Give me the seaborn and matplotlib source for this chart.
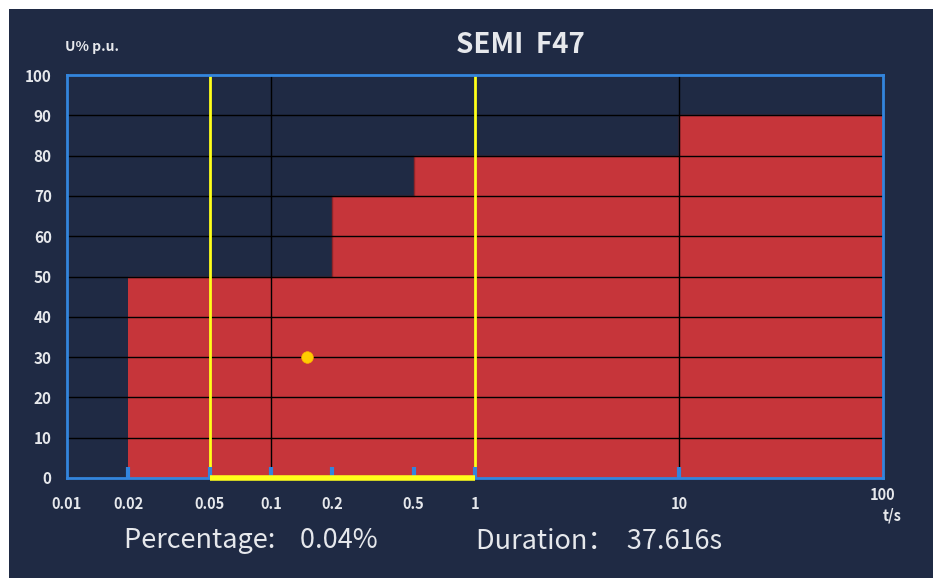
import numpy as np
import pandas as pd
import matplotlib
matplotlib.use("Agg")
import matplotlib.pyplot as plt
import seaborn as sns

# ---- data ----
curve_t = [0.02, 0.2, 0.5, 10, 100]       # s, step edges of SEMI F47 curve
curve_u = [50, 70, 80, 90, 90]            # U% p.u. (step 'post')
window_t = [0.05, 1]                      # yellow window
event_t = [0.15]
event_u = [30]
xticks = [0.01, 0.02, 0.05, 0.1, 0.2, 0.5, 1, 10]
xtick_labels = ["0.01", "0.02", "0.05", "0.1", "0.2", "0.5", "1", "10"]
inner_ticks = [0.02, 0.05, 0.1, 0.2, 0.5, 1, 10]
yticks = [0, 10, 20, 30, 40, 50, 60, 70, 80, 90, 100]
grid_x = [0.1, 1, 10]
percentage = "0.04%"
duration = "37.616s"

BG = "#1f2a44"
RED = "#c6353a"
BLUE = "#3385dd"
YEL = "#ffff1a"
TXT = "#e6e8ec"

sns.set_theme(style="dark")
plt.rcParams["font.family"] = ["Noto Sans CJK SC", "DejaVu Sans"]

W, H = 933, 578
fig = plt.figure(figsize=(W / 100, H / 100), dpi=100, facecolor=BG)
# white strips (top and left)
fig.patches.append(plt.Rectangle((0, 1 - 9 / H), 1, 9 / H, transform=fig.transFigure,
                                 facecolor="white", edgecolor="none", zorder=-10))
fig.patches.append(plt.Rectangle((0, 0), 9 / W, 1, transform=fig.transFigure,
                                 facecolor="white", edgecolor="none", zorder=-10))

L, R, T, B = 67, 883, 75, 478
ax = fig.add_axes([L / W, 1 - B / H, (R - L) / W, (B - T) / H])
ax.set_facecolor(BG)
ax.set_xscale("log")
ax.set_xlim(0.01, 100)
ax.set_ylim(0, 100)

# red tolerance area
ax.fill_between(curve_t, curve_u, 0, step="post", color=RED, linewidth=0, zorder=1)
df_curve = pd.DataFrame({"t": curve_t, "u": curve_u})
sns.lineplot(data=df_curve, x="t", y="u", drawstyle="steps-post", color="#8e2428",
             linewidth=1, ax=ax, zorder=1.5, legend=False)

# grid lines
for y in yticks[1:-1]:
    ax.axhline(y, color="black", linewidth=1, zorder=2)
for x in grid_x:
    ax.axvline(x, color="black", linewidth=1, zorder=2)

# yellow window
for x in window_t:
    ax.axvline(x, color=YEL, linewidth=2, zorder=3)
ax.plot(window_t, [0, 0], color=YEL, linewidth=4, zorder=6, clip_on=False, solid_capstyle="butt")

# event point
df_ev = pd.DataFrame({"t": event_t, "u": event_u})
sns.scatterplot(data=df_ev, x="t", y="u", color="#ffcc00", s=70, edgecolor="#ffb000",
                linewidth=0.5, ax=ax, zorder=4, legend=False)

# spines
for s in ax.spines.values():
    s.set_color(BLUE)
    s.set_linewidth(2)
    s.set_visible(True)
    s.set_zorder(5)

# ticks
ax.set_axisbelow(False)
ax.xaxis.set_zorder(5.5)
ax.set_yticks(yticks)
ax.set_yticklabels([str(v) for v in yticks], color=TXT, fontsize=11, fontweight="bold")
ax.tick_params(axis="y", left=False, length=0, pad=11)
ax.set_xticks(inner_ticks, minor=False)
ax.set_xticks([], minor=True)
ax.tick_params(axis="x", which="major", bottom=True, direction="in", length=8, width=3,
               color=BLUE, labelbottom=False)
for xt, lab in zip(xticks, xtick_labels):
    ax.text(xt, -4.5, lab, ha="center", va="top", color=TXT, fontsize=10.5, fontweight="bold",
            clip_on=False)
ax.text(100, -2.3, "100", ha="center", va="top", color=TXT, fontsize=10.5, fontweight="bold", clip_on=False)
ax.text(100, -7.3, "t/s", ha="left", va="top", color=TXT, fontsize=10.5, fontweight="bold", clip_on=False)
ax.set_xlabel("")
ax.set_ylabel("")
ax.grid(False)

# texts
fig.text(65 / W, 1 - 47 / H, "U% p.u.", color=TXT, fontsize=10, fontweight="bold", va="center", ha="left")
fig.text(520 / W, 1 - 45 / H, "SEMI  F47", color=TXT, fontsize=20,
         fontweight="bold", va="center", ha="center")
fig.text(124 / W, 1 - 541 / H, "Percentage:    " + percentage, color=TXT, fontsize=19.5,
         fontweight="medium", va="center", ha="left")
fig.text(476 / W, 1 - 541 / H, "Duration：  " + duration, color=TXT, fontsize=19.5,
         fontweight="medium", va="center", ha="left")

fig.savefig("out.png", dpi=100, facecolor=fig.get_facecolor())
